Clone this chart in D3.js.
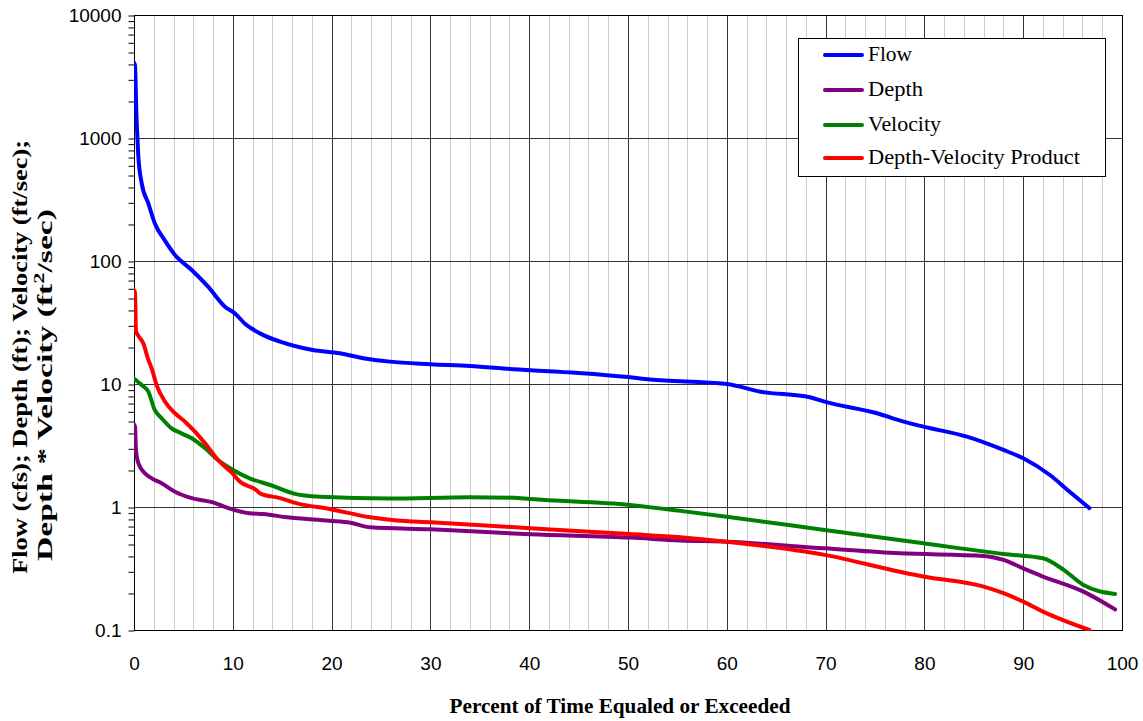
<!DOCTYPE html>
<html>
<head>
<meta charset="utf-8">
<style>
  body { margin: 0; background: #fff; }
  svg { display: block; font-family: "Palatino Linotype", "Book Antiqua", Palatino, "Liberation Serif", serif; }
</style>
</head>
<body>
<svg id="chart" width="1143" height="721"></svg>
<script src="https://cdnjs.cloudflare.com/ajax/libs/d3/7.8.5/d3.min.js"></script>
<script>

// values (percent of time, value)
let flowPct = [0, 0.1, 0.25, 0.35, 0.44, 0.78, 1.45, 2.1, 3.1, 4.15, 5.84, 7.5, 9.2, 10.2, 11.2, 12.75, 14.8, 18.1, 20.85, 23.2, 25.9, 30, 34, 38.4, 45, 50, 52.2, 60, 63.4, 68.4, 69.9, 75.2, 77.9, 79.9, 84.3, 88, 90, 92.7, 94.7, 96.7];
let flowVal = [4100, 3900, 1500, 1000, 705, 428, 294, 203, 148, 112, 84.5, 61.8, 42.5, 37.6, 31.1, 25.8, 22.1, 18.9, 17.8, 16.2, 15.2, 14.5, 14.0, 13.2, 12.3, 11.4, 10.9, 10.0, 8.66, 7.8, 7.18, 5.78, 4.94, 4.5, 3.73, 2.91, 2.49, 1.82, 1.33, 0.98];

let depthPct = [0, 0.1, 0.2, 0.44, 1.1, 1.8, 2.8, 4.15, 5.84, 7.8, 9.9, 11.7, 13.1, 15.5, 19.8, 21.9, 23.9, 30, 40.1, 50.2, 55.3, 60, 69.9, 77.5, 86, 88, 90, 92, 96.1, 99.3];
let depthVal = [4.7, 4.5, 2.9, 2.27, 1.88, 1.71, 1.56, 1.33, 1.18, 1.10, 0.96, 0.889, 0.877, 0.824, 0.774, 0.746, 0.684, 0.658, 0.60, 0.564, 0.535, 0.522, 0.461, 0.42, 0.40, 0.371, 0.317, 0.272, 0.205, 0.147];

let velPct = [0, 0.78, 1.45, 2.1, 2.8, 3.8, 4.8, 5.84, 7.2, 8.5, 9.9, 11.7, 13.8, 16.1, 18.8, 25.9, 34, 38.4, 40.1, 50.2, 55.3, 60, 69.9, 79.9, 88, 92, 94.1, 96.1, 99.3];
let velVal = [11.1, 9.8, 8.66, 6.15, 5.26, 4.36, 3.97, 3.62, 3.0, 2.41, 2.03, 1.71, 1.51, 1.29, 1.21, 1.17, 1.2, 1.19, 1.16, 1.04, 0.93, 0.834, 0.65, 0.507, 0.415, 0.383, 0.308, 0.232, 0.196];

let dvPct = [0, 0.1, 0.2, 0.4, 0.94, 1.45, 1.79, 2.29, 3.14, 4.15, 5.16, 6.17, 7.19, 8.5, 9.9, 10.7, 12.4, 12.75, 14.8, 16.5, 19.8, 23.9, 26.6, 30, 40.1, 50.2, 55.3, 60, 69.9, 77.5, 79.9, 86, 88, 90, 92, 96.7];
let dvVal = [58, 55, 27, 25, 21.4, 15.7, 13.4, 9.8, 7.18, 5.78, 4.94, 4.1, 3.29, 2.41, 1.9, 1.61, 1.37, 1.29, 1.18, 1.07, 0.964, 0.824, 0.775, 0.752, 0.672, 0.603, 0.568, 0.522, 0.408, 0.298, 0.272, 0.225, 0.199, 0.17, 0.141, 0.1];

let seriesNames = ["Flow", "Depth", "Velocity", "Depth-Velocity Product"];
let seriesColors = ["#0000ff", "#800080", "#008000", "#ff0000"];

let xTicks = [0, 10, 20, 30, 40, 50, 60, 70, 80, 90, 100];
let yTicks = [0.1, 1, 10, 100, 1000, 10000];

let svg = d3.select("#chart");

let plotL = 134, plotR = 1122, plotT = 15, plotB = 630;

let x = d3.scaleLinear().domain([0, 100]).range([plotL, plotR]);
let y = d3.scaleLog().domain([0.1, 10000]).range([plotB, plotT]);

// vertical grid, light every 2%, dark every 10%
let minor = d3.range(2, 100, 2).filter(d => d % 10 != 0);
svg.append("g").selectAll("line")
    .data(minor)
    .enter().append("line")
    .attr("x1", d => Math.round(x(d)) + 0.5).attr("x2", d => Math.round(x(d)) + 0.5)
    .attr("y1", plotT).attr("y2", plotB)
    .attr("stroke", "#cccccc");

svg.append("g").selectAll("line")
    .data(xTicks.slice(1, -1))
    .enter().append("line")
    .attr("x1", d => Math.round(x(d)) + 0.5).attr("x2", d => Math.round(x(d)) + 0.5)
    .attr("y1", plotT).attr("y2", plotB)
    .attr("stroke", "#333");

svg.append("g").selectAll("line")
    .data(yTicks.slice(1, -1))
    .enter().append("line")
    .attr("x1", plotL).attr("x2", plotR)
    .attr("y1", d => Math.round(y(d)) + 0.5).attr("y2", d => Math.round(y(d)) + 0.5)
    .attr("stroke", "#333");

// plot frame
svg.append("rect")
    .attr("x", plotL + 0.5).attr("y", plotT + 0.5)
    .attr("width", plotR - plotL).attr("height", plotB - plotT)
    .attr("fill", "none").attr("stroke", "#000");

// y axis with minor ticks
let yAxis = d3.axisLeft(y)
    .tickValues(y.ticks())
    .tickSize(6)
    .tickFormat(d => yTicks.includes(d) ? d3.format("~g")(d) : "");
let ya = svg.append("g")
    .attr("transform", "translate(" + (plotL + 0.5) + ",0.5)")
    .call(yAxis);
ya.select(".domain").remove();
ya.selectAll("text")
    .attr("x", -13)
    .style("font-size", "19px")
    .style("font-family", "inherit")
    .attr("fill", "#000");

// x axis labels
let xa = svg.append("g")
    .attr("transform", "translate(0," + plotB + ")")
    .call(d3.axisBottom(x).tickValues(xTicks).tickSize(0).tickPadding(27));
xa.select(".domain").remove();
xa.selectAll("text")
    .style("font-size", "19px")
    .style("font-family", "inherit")
    .attr("fill", "#000");

// series lines
let series = [
    { name: seriesNames[0], color: seriesColors[0], pct: flowPct, val: flowVal },
    { name: seriesNames[1], color: seriesColors[1], pct: depthPct, val: depthVal },
    { name: seriesNames[2], color: seriesColors[2], pct: velPct, val: velVal },
    { name: seriesNames[3], color: seriesColors[3], pct: dvPct, val: dvVal }
];

svg.append("clipPath").attr("id", "plotclip")
    .append("rect")
    .attr("x", plotL).attr("y", plotT)
    .attr("width", plotR - plotL).attr("height", plotB - plotT + 1);

let line = d3.line()
    .x(d => x(d[0]))
    .y(d => y(d[1]))
    .curve(d3.curveMonotoneX);

svg.append("g")
    .attr("clip-path", "url(#plotclip)")
    .selectAll("path")
    .data(series)
    .enter().append("path")
    .attr("d", s => line(s.pct.map((p, i) => [p, s.val[i]])))
    .attr("fill", "none")
    .attr("stroke", s => s.color)
    .attr("stroke-width", 4)
    .attr("stroke-linejoin", "round")
    .attr("stroke-linecap", "round");

// legend
let legend = svg.append("g").attr("transform", "translate(798,38)");
legend.append("rect")
    .attr("x", 0.5).attr("y", 0.5)
    .attr("width", 307).attr("height", 138)
    .attr("fill", "#fff").attr("stroke", "#000");

let item = legend.selectAll(".item")
    .data(series)
    .enter().append("g")
    .attr("class", "item")
    .attr("transform", (d, i) => "translate(0," + [17, 52, 87, 120][i] + ")");
item.append("line")
    .attr("x1", 27).attr("x2", 64)
    .attr("stroke", d => d.color)
    .attr("stroke-width", 4)
    .attr("stroke-linecap", "round");
item.append("text")
    .attr("x", 70).attr("y", 6)
    .attr("textLength", (d, i) => [44, 55, 73, 212][i])
    .attr("lengthAdjust", "spacingAndGlyphs")
    .style("font-size", "20px")
    .text(d => d.name);

// axis titles
svg.append("text")
    .attr("x", 620).attr("y", 713)
    .attr("text-anchor", "middle")
    .attr("textLength", 341)
    .attr("lengthAdjust", "spacingAndGlyphs")
    .style("font-size", "20px")
    .style("font-weight", "bold")
    .text("Percent of Time Equaled or Exceeded");

svg.append("text")
    .attr("transform", "translate(27,357) rotate(-90)")
    .attr("text-anchor", "middle")
    .attr("textLength", 434)
    .attr("lengthAdjust", "spacingAndGlyphs")
    .style("font-size", "21px")
    .style("font-weight", "bold")
    .text("Flow (cfs); Depth (ft); Velocity (ft/sec);");

let yt2 = svg.append("text")
    .attr("transform", "translate(52,385) rotate(-90)")
    .attr("text-anchor", "middle")
    .attr("textLength", 352)
    .attr("lengthAdjust", "spacingAndGlyphs")
    .style("font-size", "21px")
    .style("font-weight", "bold");
yt2.append("tspan").text("Depth * Velocity (ft");
yt2.append("tspan").attr("dy", -8).style("font-size", "14px").text("2");
yt2.append("tspan").attr("dy", 8).text("/sec)");

</script>
</body>
</html>
